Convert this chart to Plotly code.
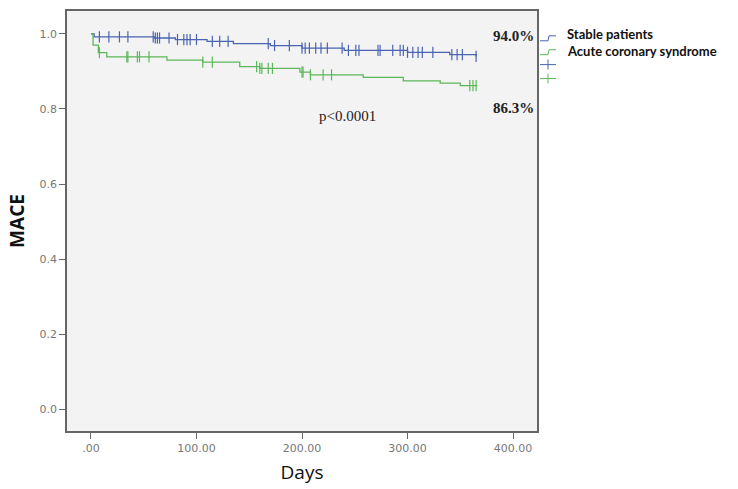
import numpy as np
import plotly.graph_objects as go

# Kaplan-Meier step data
stable_days = [0, 3, 60, 80, 110, 135, 170, 200, 240, 300, 340, 365]
stable_surv = [1.0, 0.992, 0.989, 0.985, 0.980, 0.974, 0.969, 0.962, 0.956, 0.951, 0.945, 0.940]
stable_censor = [8, 17, 27, 35, 59, 61, 63, 65, 74, 82, 88, 91, 94, 100, 115, 122, 130, 168, 174,
                 188, 200, 203, 207, 213, 218, 224, 238, 244, 251, 254, 272, 274, 286, 293, 296,
                 300, 305, 310, 314, 324, 342, 347, 352, 365]

acs_days = [0, 2, 7, 15, 72, 106, 141, 160, 198, 208, 258, 296, 331, 350, 366]
acs_surv = [1.0, 0.970, 0.950, 0.939, 0.930, 0.925, 0.913, 0.908, 0.898, 0.891, 0.884, 0.875, 0.869, 0.862, 0.862]
acs_censor = [8, 34, 35, 44, 46, 55, 106, 115, 157, 160, 162, 168, 172, 200, 201, 208, 220, 228,
              359, 362, 365]

x_ticks = [0, 100, 200, 300, 400]
x_ticktext = [".00", "100.00", "200.00", "300.00", "400.00"]
y_ticks = [0.0, 0.2, 0.4, 0.6, 0.8, 1.0]
y_ticktext = ["0.0", "0.2", "0.4", "0.6", "0.8", "1.0"]

BLUE = "#4a64b0"
GREEN = "#5cb85a"


def step_at(days, surv, t):
    idx = np.searchsorted(np.array(days), t, side="right") - 1
    return [surv[i] for i in idx]


fig = go.Figure()
fig.add_trace(go.Scatter(x=stable_days, y=stable_surv, mode="lines", line_shape="hv",
                         line=dict(color=BLUE, width=1.3), showlegend=False))
fig.add_trace(go.Scatter(x=acs_days, y=acs_surv, mode="lines", line_shape="hv",
                         line=dict(color=GREEN, width=1.3), showlegend=False))
fig.add_trace(go.Scatter(x=stable_censor, y=step_at(stable_days, stable_surv, stable_censor),
                         mode="markers",
                         marker=dict(symbol="line-ns-open", size=8, color=BLUE,
                                     line=dict(color=BLUE, width=1.2)),
                         showlegend=False))
fig.add_trace(go.Scatter(x=acs_censor, y=step_at(acs_days, acs_surv, acs_censor),
                         mode="markers",
                         marker=dict(symbol="line-ns-open", size=8, color=GREEN,
                                     line=dict(color=GREEN, width=1.2)),
                         showlegend=False))

# Annotations in the plot
fig.add_annotation(x=400, y=0.995, text="<b>94.0%</b>", showarrow=False, xanchor="center",
                   font=dict(family="Liberation Serif", size=15, color="#222"))
fig.add_annotation(x=400, y=0.803, text="<b>86.3%</b>", showarrow=False, xanchor="center",
                   font=dict(family="Liberation Serif", size=15, color="#222"))
fig.add_annotation(x=243, y=0.78, text="p<0.0001", showarrow=False, xanchor="center",
                   font=dict(family="Liberation Serif", size=15, color="#222"))


# Legend (drawn manually, outside right)
def px2paper_x(px):
    return (px - 67) / (537 - 67)


def px2paper_y(py):
    return (432 - py) / (432 - 9)


leg_lines = [
    (BLUE, 36, 32, "Stable patients"),
    (GREEN, 50, 49, "Acute coronary syndrome"),
]
for color, py, ty, label in leg_lines:
    xs = [540, 548, 549, 556]
    ys = [py + 3, py + 3, py - 2, py - 2]
    path = "M {} {} L {} {} L {} {} L {} {}".format(
        px2paper_x(xs[0]), px2paper_y(ys[0]), px2paper_x(xs[1]), px2paper_y(ys[1]),
        px2paper_x(xs[2]), px2paper_y(ys[2]), px2paper_x(xs[3]), px2paper_y(ys[3]))
    fig.add_shape(type="path", xref="paper", yref="paper", path=path,
                  line=dict(color=color, width=1))
    fig.add_annotation(xref="paper", yref="paper", x=px2paper_x(565), y=px2paper_y(ty),
                       text="<b>" + label + "</b>", showarrow=False, xanchor="left", yanchor="middle",
                       font=dict(family="Lato", size=13, color="#111"))
for color, py in [(BLUE, 63), (GREEN, 77)]:
    fig.add_shape(type="line", xref="paper", yref="paper", x0=px2paper_x(540), x1=px2paper_x(556),
                  y0=px2paper_y(py), y1=px2paper_y(py), line=dict(color=color, width=1))
    fig.add_shape(type="line", xref="paper", yref="paper", x0=px2paper_x(548), x1=px2paper_x(548),
                  y0=px2paper_y(py - 5), y1=px2paper_y(py + 5), line=dict(color=color, width=1))

fig.update_layout(
    width=738, height=489,
    margin=dict(l=67, r=201, t=9, b=57),
    paper_bgcolor="white",
    plot_bgcolor="#f3f3f3",
    showlegend=False,
)
fig.update_xaxes(range=[-22.7, 422.7], tickvals=x_ticks, ticktext=x_ticktext,
                 showgrid=False, zeroline=False, showline=True, mirror=True,
                 linecolor="#666", linewidth=1.5, ticks="outside", ticklen=6, tickcolor="#666",
                 tickfont=dict(family="DejaVu Sans", size=11, color="#777"),
                 title=dict(text="Days", font=dict(family="Open Sans", size=19, color="#111"), standoff=12))
fig.update_yaxes(range=[-0.058, 1.061], tickvals=y_ticks, ticktext=y_ticktext,
                 showgrid=False, zeroline=False, showline=True, mirror=True,
                 linecolor="#666", linewidth=1.5, ticks="outside", ticklen=6, tickcolor="#666",
                 tickfont=dict(family="DejaVu Sans", size=11, color="#777"),
                 title=dict(text="<b>MACE</b>", font=dict(family="Open Sans", size=19, color="#111"), standoff=10))

fig.write_html("out.html")
